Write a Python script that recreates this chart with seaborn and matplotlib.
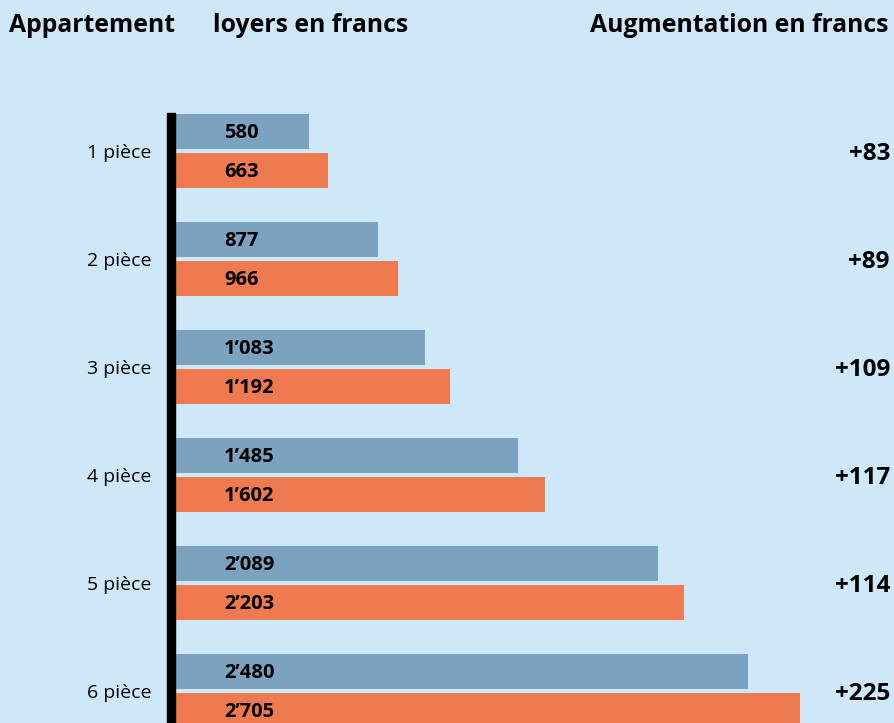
import pandas as pd
import matplotlib.pyplot as plt
import seaborn as sns
from matplotlib.patches import Rectangle

# Data
categories = ['1 pièce', '2 pièce', '3 pièce', '4 pièce', '5 pièce', '6 pièce']
loyer_avant = [580, 877, 1083, 1485, 2089, 2480]
loyer_apres = [663, 966, 1192, 1602, 2203, 2705]
augmentation = [83, 89, 109, 117, 114, 225]

BG = '#CFE8F9'
BLUE = '#7BA2BE'
ORANGE = '#F07A50'

df = pd.DataFrame({
    'piece': categories * 2,
    'loyer': loyer_avant + loyer_apres,
    'periode': ['avant'] * len(categories) + ['apres'] * len(categories),
})

sns.set_theme(style='white')
plt.rcParams['font.family'] = ['Open Sans', 'DejaVu Sans']
plt.rcParams['text.color'] = 'black'

W, H = 894, 723
fig = plt.figure(figsize=(W / 100, H / 100), dpi=100)
fig.patch.set_facecolor(BG)

# axes placed in pixel terms: x zero at 175 px, top at 113 px
ax = fig.add_axes([175 / W, 0, (W - 175) / W, (H - 113) / H])
ax.set_facecolor(BG)

sns.barplot(data=df, y='piece', x='loyer', hue='periode', orient='h',
            palette=[BLUE, ORANGE], width=0.722, gap=0.103,
            saturation=1, legend=False, linewidth=0, ax=ax)

ax.set_xlim(0, (W - 175) / 0.2311)
ax.set_ylim(5.296, -0.352)
for s in ax.spines.values():
    s.set_visible(False)
ax.set_xticks([])
ax.set_xlabel('')
ax.set_ylabel('')
ax.tick_params(axis='y', length=0, pad=17)
ax.set_yticks(range(len(categories)))
ax.set_yticklabels(categories, fontsize=14, color='black')

# thick black vertical axis line
fig.add_artist(Rectangle((167 / W, 0), 8 / W, (H - 113) / H,
                         transform=fig.transFigure, color='black'))


def fmt(v):
    return f'{v:,}'.replace(',', '\u2019')


off = 0.361 / 2
for i in range(len(categories)):
    ax.text(212, i - off + 0.015, fmt(loyer_avant[i]), ha='left', va='center',
            fontsize=14.5, fontweight='bold', color='black')
    ax.text(212, i + off + 0.015, fmt(loyer_apres[i]), ha='left', va='center',
            fontsize=14.5, fontweight='bold', color='black')
    ax.text(889 / W, i + 0.03, f'+{augmentation[i]}',
            transform=ax.get_yaxis_transform(),
            ha='right', va='center', fontsize=17.5, fontweight='bold', color='black')

# header
fig.text(9 / W, 1 - 26 / H, 'Appartement', ha='left', va='center',
         fontsize=17.8, fontweight='bold')
fig.text(213 / W, 1 - 26 / H, 'loyers en francs', ha='left', va='center',
         fontsize=17.8, fontweight='bold')
fig.text(889 / W, 1 - 26 / H, 'Augmentation en francs', ha='right', va='center',
         fontsize=17.8, fontweight='bold')

fig.savefig('out.png', dpi=100, facecolor=BG)
